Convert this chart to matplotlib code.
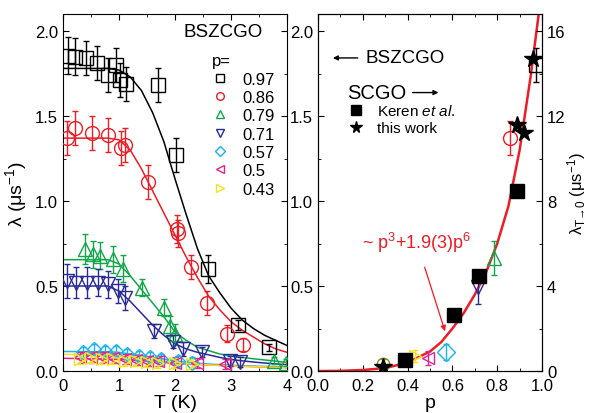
import numpy as np
import matplotlib
matplotlib.use("Agg")
import matplotlib.pyplot as plt
from matplotlib.ticker import MultipleLocator, FormatStrFormatter
from matplotlib.lines import Line2D

plt.rcParams['font.family'] = ['Liberation Sans', 'DejaVu Sans']
plt.rcParams['mathtext.fontset'] = 'custom'
plt.rcParams['mathtext.rm'] = 'Liberation Sans'
plt.rcParams['mathtext.it'] = 'Liberation Sans:italic'
plt.rcParams['mathtext.default'] = 'regular'

# ---------- left panel: lambda vs T for BSZCGO ----------
p_labels = ['0.97', '0.86', '0.79', '0.71', '0.57', '0.5', '0.43']
colors = ['black', '#ee1c25', '#12a64a', '#2a2a96', '#17b4ee', '#e4218f', '#f2e41a']
markers = ['s', 'o', '^', 'v', 'D', '<', '>']

T_097 = [0.09, 0.21, 0.41, 0.61, 0.81, 0.94, 1.02, 1.12, 1.70, 2.02, 2.58, 3.13, 3.68]
L_097 = [1.855, 1.85, 1.84, 1.81, 1.74, 1.80, 1.71, 1.69, 1.68, 1.27, 0.60, 0.27, 0.14]
E_097 = [0.11, 0.11, 0.10, 0.10, 0.10, 0.10, 0.10, 0.10, 0.10, 0.10, 0.08, 0.03, 0.02]

T_086 = [0.07, 0.21, 0.51, 0.81, 1.04, 1.11, 1.52, 2.03, 2.06, 2.28, 2.57, 2.92, 3.22]
L_086 = [1.37, 1.43, 1.40, 1.39, 1.31, 1.33, 1.11, 0.835, 0.81, 0.61, 0.40, 0.22, 0.155]
E_086 = [0.10, 0.10, 0.10, 0.10, 0.10, 0.10, 0.10, 0.08, 0.08, 0.07, 0.07, 0.05, 0.04]

T_079 = [0.39, 0.54, 0.66, 0.90, 1.08, 1.41, 1.81, 1.91, 2.00, 3.76, 3.98]
L_079 = [0.717, 0.687, 0.678, 0.658, 0.603, 0.49, 0.373, 0.265, 0.216, 0.06, 0.05]
E_079 = [0.09, 0.08, 0.08, 0.08, 0.08, 0.05, 0.05, 0.06, 0.06, 0.02, 0.02]

T_071 = [0.07, 0.24, 0.43, 0.63, 0.81, 0.99, 1.11, 1.63, 1.97, 2.14, 2.48, 2.98, 3.16]
L_071 = [0.53, 0.52, 0.52, 0.52, 0.51, 0.47, 0.43, 0.236, 0.173, 0.128, 0.112, 0.059, 0.055]
E_071 = [0.10, 0.09, 0.09, 0.08, 0.08, 0.07, 0.07, 0.04, 0.04, 0.04, 0.03, 0.03, 0.03]

T_057 = [0.35, 0.55, 0.75, 0.95, 1.15, 1.35, 1.55, 1.75, 2.05, 2.30]
L_057 = [0.11, 0.13, 0.12, 0.12, 0.10, 0.09, 0.08, 0.07, 0.06, 0.05]
E_057 = [0.03] * 10

T_050 = [0.30, 0.50, 0.70, 0.90, 1.10, 1.30, 1.50, 1.70, 2.00, 2.40, 2.90]
L_050 = [0.08, 0.08, 0.08, 0.075, 0.07, 0.065, 0.06, 0.06, 0.05, 0.045, 0.04]
E_050 = [0.03] * 11

T_043 = [0.30, 0.50, 0.70, 0.90, 1.10, 1.30, 1.50, 1.70, 2.00, 2.30]
L_043 = [0.07, 0.075, 0.07, 0.07, 0.06, 0.06, 0.055, 0.05, 0.045, 0.04]
E_043 = [0.03] * 10

# fit curves
T_fit = [0.0, 0.8, 1.0, 1.2, 1.4, 1.6, 1.8, 2.0, 2.2, 2.4, 2.6, 2.8, 3.0, 3.2, 3.4, 3.6, 3.8, 4.0]
F_097 = [1.78, 1.78, 1.77, 1.73, 1.65, 1.52, 1.35, 1.13, 0.92, 0.72, 0.56, 0.46, 0.37, 0.30, 0.25, 0.21, 0.18, 0.15]
F_086 = [1.37, 1.37, 1.36, 1.30, 1.19, 1.06, 0.93, 0.80, 0.67, 0.55, 0.44, 0.36, 0.29, 0.24, 0.20, 0.16, 0.13, 0.11]
F_079 = [0.655, 0.655, 0.63, 0.56, 0.48, 0.40, 0.32, 0.23, 0.18, 0.14, 0.12, 0.10, 0.088, 0.08, 0.072, 0.065, 0.058, 0.05]
F_071 = [0.50, 0.50, 0.47, 0.41, 0.34, 0.27, 0.21, 0.16, 0.13, 0.11, 0.095, 0.08, 0.068, 0.06, 0.053, 0.047, 0.042, 0.037]
F_057 = [0.115, 0.113, 0.11, 0.10, 0.09, 0.08, 0.07, 0.06, 0.052, 0.046, 0.041, 0.037, 0.034, 0.031, 0.029, 0.027, 0.026, 0.025]
F_050 = [0.075, 0.07, 0.068, 0.064, 0.06, 0.056, 0.05, 0.045, 0.042, 0.039, 0.036, 0.033, 0.03, 0.028, 0.026, 0.024, 0.022, 0.02]
F_043 = [0.098, 0.093, 0.09, 0.083, 0.075, 0.067, 0.058, 0.05, 0.045, 0.04, 0.036, 0.033, 0.03, 0.028, 0.026, 0.024, 0.022, 0.02]

# ---------- right panel: lambda(T->0) vs p ----------
p_open = [0.972, 0.857, 0.787, 0.713, 0.571, 0.493, 0.433, 0.289]
L_open = [1.80, 1.37, 0.662, 0.497, 0.112, 0.075, 0.088, 0.043]
E_open = [0.10, 0.10, 0.10, 0.10, 0.045, 0.04, 0.035, 0.025]

p_keren = [0.39, 0.609, 0.719, 0.89]
L_keren = [0.50, 2.63, 4.48, 8.46]          # right axis units

p_this = [0.289, 0.888, 0.921, 0.958]
L_this = [0.21, 11.6, 11.2, 14.7]           # right axis units

p_curve = [0.0, 0.1, 0.2, 0.3, 0.4, 0.5, 0.55, 0.6, 0.65, 0.7, 0.75, 0.8, 0.85, 0.9, 0.95, 0.99]
L_curve = [0.0, 0.001, 0.006, 0.017, 0.05, 0.115, 0.17, 0.25, 0.34, 0.45, 0.58, 0.75, 0.97, 1.30, 1.74, 2.15]

fig = plt.figure(figsize=(5.9, 4.14), dpi=100)
ax = fig.add_axes([0.1068, 0.1014, 0.3797, 0.8623])
axr = fig.add_axes([0.539, 0.1014, 0.3797, 0.8623])

series = [
    (T_097, L_097, E_097, F_097, 10),
    (T_086, L_086, E_086, F_086, 10),
    (T_079, L_079, E_079, F_079, 10),
    (T_071, L_071, E_071, F_071, 10),
    (T_057, L_057, E_057, F_057, 7),
    (T_050, L_050, E_050, F_050, 8),
    (T_043, L_043, E_043, F_043, 8),
]

# curves first, points on top
for i, (t, l, e, f, ms) in enumerate(series):
    ax.plot(T_fit, f, '-', color=colors[i], lw=1.1, zorder=2)
for i, (t, l, e, f, ms) in enumerate(series):
    ax.errorbar(t, l, yerr=e, fmt=markers[i], color=colors[i], mfc='none',
                mec=colors[i], ms=ms, mew=1.0, elinewidth=1.0, capsize=2,
                capthick=1.0, zorder=3)

ax.set_xlim(0, 4)
ax.set_ylim(0, 2.1)
ax.xaxis.set_major_locator(MultipleLocator(1))
ax.xaxis.set_minor_locator(MultipleLocator(0.5))
ax.yaxis.set_major_locator(MultipleLocator(0.5))
ax.yaxis.set_minor_locator(MultipleLocator(0.25))
ax.yaxis.set_major_formatter(FormatStrFormatter('%.1f'))
ax.tick_params(which='both', direction='in', top=True, right=True, labelsize=12)
ax.tick_params(which='major', length=4)
ax.tick_params(which='minor', length=2.5)
ax.tick_params(axis='x', pad=5)
ax.set_xlabel('T (K)', fontsize=14, labelpad=1)
ax.set_ylabel('λ (μs$^{-1}$)', fontsize=14, labelpad=4)

ax.text(0.89, 0.975, 'BSZCGO', transform=ax.transAxes, fontsize=13.5,
        ha='right', va='top')

handles = [Line2D([], [], ls='none', marker=markers[i], color=colors[i],
                  mfc='none', ms=5.5, mew=1.0) for i in range(len(p_labels))]
leg = ax.legend(handles, p_labels, title='p=', loc='upper left',
                bbox_to_anchor=(0.665, 0.89), frameon=False, fontsize=12,
                title_fontsize=12, handlelength=1.0, handletextpad=0.8,
                labelspacing=0.2, borderaxespad=0, borderpad=0)
leg._legend_box.align = 'left'

# right panel
axr.plot(p_curve, L_curve, '-', color='#ee1c25', lw=1.8, zorder=2)
for i in range(len(p_open)):
    if i == 7:
        c, m = '#8a8a20', 'o'
    else:
        c, m = colors[i], markers[i]
    ms = 10 if i < 4 else 9
    axr.errorbar([p_open[i]], [L_open[i]], yerr=[E_open[i]], fmt=m, color=c,
                 mfc='none', mec=c, ms=ms, mew=1.0, elinewidth=1.0,
                 capsize=2, capthick=1.0, zorder=3)

axr.set_xlim(0, 1.0)
axr.set_ylim(0, 2.1)
axr.xaxis.set_major_locator(MultipleLocator(0.2))
axr.xaxis.set_minor_locator(MultipleLocator(0.1))
axr.yaxis.set_major_locator(MultipleLocator(0.5))
axr.yaxis.set_minor_locator(MultipleLocator(0.25))
axr.xaxis.set_major_formatter(FormatStrFormatter('%.1f'))
axr.yaxis.set_major_formatter(FormatStrFormatter('%.1f'))
axr.tick_params(which='both', direction='in', top=True, labelsize=12)
axr.tick_params(which='major', length=4)
axr.tick_params(which='minor', length=2.5)
axr.tick_params(axis='x', pad=5)
axr.set_xlabel('p', fontsize=14, labelpad=1)

axt = axr.twinx()
axt.set_ylim(0, 16.8)
axt.yaxis.set_major_locator(MultipleLocator(4))
axt.yaxis.set_minor_locator(MultipleLocator(2))
axt.tick_params(which='both', direction='in', labelsize=12)
axt.tick_params(which='major', length=4)
axt.tick_params(which='minor', length=2.5)
axt.set_ylabel('λ$_{T→0}$ (μs$^{-1}$)', fontsize=12, labelpad=0)

axt.plot(p_keren, L_keren, 's', color='black', ms=10, ls='none',
         label='Keren $\\it{et\\ al.}$', zorder=4)
axt.plot(p_this, L_this, '*', color='black', ms=13, ls='none',
         label='this work', zorder=5)
axt.legend(loc='upper left', bbox_to_anchor=(0.135, 0.75), frameon=False,
           fontsize=11, handlelength=1.0, handletextpad=0.9,
           labelspacing=0.2, borderaxespad=0, borderpad=0, markerscale=0.65)

axr.annotate('', xy=(0.054, 0.877), xytext=(0.19, 0.877),
             xycoords='axes fraction',
             arrowprops=dict(arrowstyle='-|>', color='black', lw=1,
                             mutation_scale=7))
axr.text(0.21, 0.877, 'BSZCGO', transform=axr.transAxes, fontsize=13.5,
         va='center', ha='left')
axr.text(0.13, 0.78, 'SCGO', transform=axr.transAxes, fontsize=14.5,
         va='center', ha='left')
axr.annotate('', xy=(0.55, 0.78), xytext=(0.41, 0.78),
             xycoords='axes fraction',
             arrowprops=dict(arrowstyle='-|>', color='black', lw=1,
                             mutation_scale=7))

axr.annotate('~ p$^3$+1.9(3)p$^6$', xy=(0.567, 0.234), xytext=(0.44, 0.76),
             color='#ee1c25', fontsize=13, ha='center', va='center',
             arrowprops=dict(arrowstyle='-|>', color='#ee1c25', lw=0.9,
                             mutation_scale=8, shrinkA=8, shrinkB=0))

fig.savefig('out.png', dpi=100)
